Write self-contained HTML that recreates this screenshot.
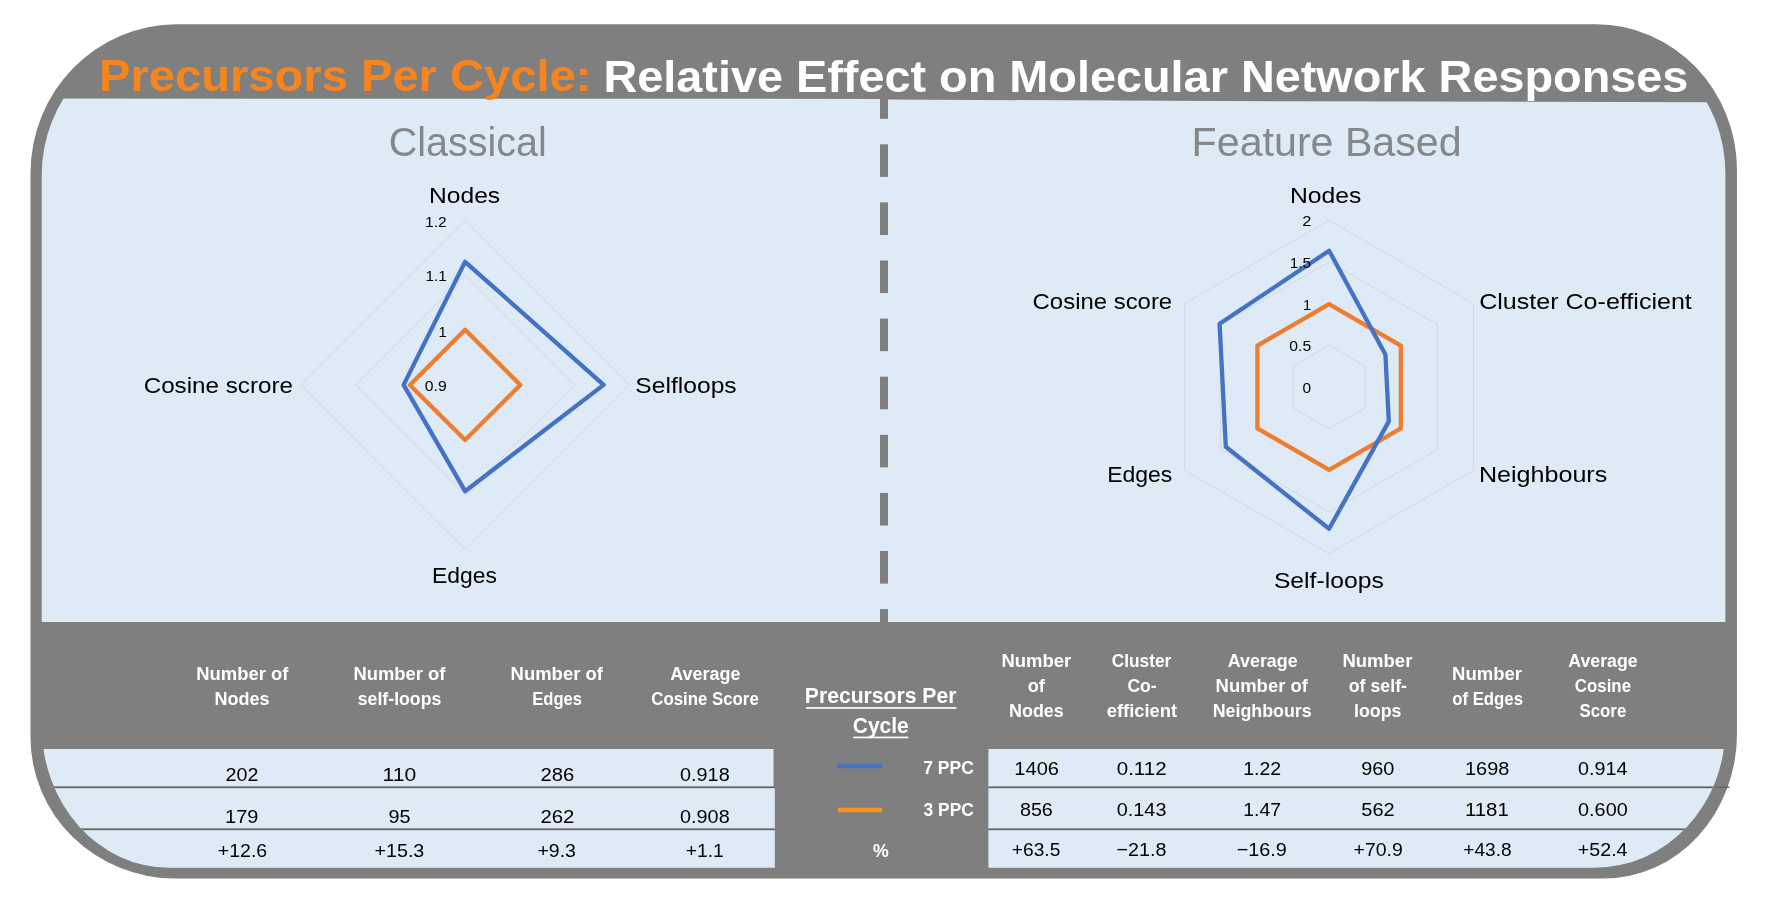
<!DOCTYPE html>
<html lang="en"><head><meta charset="utf-8"><title>Precursors Per Cycle</title>
<style>
html,body{margin:0;padding:0;background:#fff;}
body{width:1774px;height:908px;overflow:hidden;}
svg{display:block;filter:blur(0.5px);font-family:"Liberation Sans",sans-serif;}
</style></head><body>
<svg width="1774" height="908" viewBox="0 0 1774 908">
<rect width="1774" height="908" fill="#fff"/>
<path d="M176.5 24.3 L1596.0 24.3 A141 146 0 0 1 1737.0 170.3 L1737.0 733.6 A133 145 0 0 1 1604.0 878.6 L175.5 878.6 A145 141 0 0 1 30.5 737.6 L30.5 173.3 A146 149 0 0 1 176.5 24.3 Z" fill="#7f7f7f"/>
<clipPath id="inner"><path d="M174.7 35.3 L1595.4 35.3 A130 138 0 0 1 1725.4 173.3 L1725.4 727.8 A131 140 0 0 1 1594.4 867.8 L168.7 867.8 A127 142 0 0 1 41.7 725.8 L41.7 175.3 A133 140 0 0 1 174.7 35.3 Z"/></clipPath>
<g clip-path="url(#inner)">
<polygon points="30,98.6 880,98.9 888,99.6 1300,101.3 1740,102.3 1740,622 30,622" fill="#deebf7"/>
<rect x="30" y="749" width="743.5" height="38" fill="#deebf7"/>
<rect x="30" y="787" width="744.8" height="81" fill="#deebf7"/>
<rect x="988.4" y="749" width="760" height="119" fill="#deebf7"/>
<rect x="30" y="786.4" width="744.8" height="1.8" fill="#636363"/>
<rect x="988.4" y="786.4" width="760" height="1.8" fill="#636363"/>
<rect x="30" y="828.4" width="744.8" height="1.8" fill="#636363"/>
<rect x="988.4" y="828.4" width="760" height="1.8" fill="#636363"/>
</g>
<rect x="1715" y="786.6" width="14.5" height="1.4" fill="#636363"/>
<rect x="880" y="98.8" width="8" height="20.0" fill="#7f7f7f"/>
<rect x="880" y="144.3" width="8" height="32.6" fill="#7f7f7f"/>
<rect x="880" y="202.4" width="8" height="32.6" fill="#7f7f7f"/>
<rect x="880" y="260.5" width="8" height="32.6" fill="#7f7f7f"/>
<rect x="880" y="318.6" width="8" height="32.6" fill="#7f7f7f"/>
<rect x="880" y="376.7" width="8" height="32.6" fill="#7f7f7f"/>
<rect x="880" y="434.8" width="8" height="32.6" fill="#7f7f7f"/>
<rect x="880" y="492.9" width="8" height="32.6" fill="#7f7f7f"/>
<rect x="880" y="551.0" width="8" height="32.6" fill="#7f7f7f"/>
<rect x="880" y="609.1" width="8" height="13.9" fill="#7f7f7f"/>
<polygon points="465.1,330.1 519.9,384.9 465.1,439.6 410.3,384.9" fill="none" stroke="#d4d8dc" stroke-width="1"/>
<polygon points="465.1,275.3 574.6,384.9 465.1,494.4 355.6,384.9" fill="none" stroke="#d4d8dc" stroke-width="1"/>
<polygon points="465.1,220.6 629.4,384.9 465.1,549.2 300.8,384.9" fill="none" stroke="#d4d8dc" stroke-width="1"/>
<polygon points="465.1,261.8 603.6,384.9 465.1,491.2 403.6,384.9" fill="none" stroke="#4472c4" stroke-width="4.3" stroke-linejoin="round"/>
<polygon points="465.1,329.7 520.3,384.9 465.1,440.1 409.9,384.9" fill="none" stroke="#ed7d31" stroke-width="4.3" stroke-linejoin="round"/>
<polygon points="1329.1,345.3 1365.2,366.2 1365.2,407.8 1329.1,428.7 1293.0,407.8 1293.0,366.2" fill="none" stroke="#d4d8dc" stroke-width="1"/>
<polygon points="1329.1,303.6 1401.3,345.3 1401.3,428.7 1329.1,470.4 1256.9,428.7 1256.9,345.3" fill="none" stroke="#d4d8dc" stroke-width="1"/>
<polygon points="1329.1,262.0 1437.4,324.5 1437.4,449.5 1329.1,512.0 1220.8,449.5 1220.8,324.5" fill="none" stroke="#d4d8dc" stroke-width="1"/>
<polygon points="1329.1,220.3 1473.5,303.7 1473.5,470.3 1329.1,553.7 1184.7,470.3 1184.7,303.6" fill="none" stroke="#d4d8dc" stroke-width="1"/>
<polygon points="1329.1,304.2 1400.8,345.6 1400.8,428.4 1329.1,469.8 1257.4,428.4 1257.4,345.6" fill="none" stroke="#ed7d31" stroke-width="4.3" stroke-linejoin="round"/>
<polygon points="1329.1,250.7 1385.4,354.5 1388.8,421.4 1329.1,528.8 1225.8,446.7 1219.6,323.8" fill="none" stroke="#4472c4" stroke-width="4.3" stroke-linejoin="round"/>
<rect x="837" y="763.8" width="45.2" height="4.4" rx="0.6" fill="#4472c4"/>
<rect x="838" y="807.8" width="44.2" height="4.4" rx="0.6" fill="#f7941d"/>
<rect x="806" y="707.1" width="150.4" height="1.7" fill="#fff"/>
<rect x="853.4" y="736.6" width="55" height="1.7" fill="#fff"/>
<text transform="translate(98.94 91.00) scale(1.0461 1)" font-size="45.06" font-weight="700" fill="#f6851f">Precursors Per Cycle:</text>
<text transform="translate(603.46 91.50) scale(1.0395 1)" font-size="45.06" font-weight="700" fill="#fff">Relative Effect on Molecular Network Responses</text>
<text transform="translate(388.83 155.50) scale(0.9499 1)" font-size="41.57" fill="#85888b">Classical</text>
<text transform="translate(1191.61 156.30) scale(0.9907 1)" font-size="41.57" fill="#85888b">Feature Based</text>
<text transform="translate(429.03 203.10) scale(1.0855 1)" font-size="22.67" fill="#000">Nodes</text>
<text transform="translate(143.69 392.60) scale(1.0679 1)" font-size="22.67" fill="#000">Cosine scrore</text>
<text transform="translate(635.29 392.60) scale(1.0875 1)" font-size="22.67" fill="#000">Selfloops</text>
<text transform="translate(431.97 582.60) scale(1.0101 1)" font-size="22.67" fill="#000">Edges</text>
<text transform="translate(425.03 226.50) scale(1.0537 1)" font-size="14.83" fill="#000">1.2</text>
<text transform="translate(425.45 281.30) scale(1.0324 1)" font-size="14.83" fill="#000">1.1</text>
<text transform="translate(438.49 336.60) scale(0.9981 1)" font-size="14.83" fill="#000">1</text>
<text transform="translate(424.81 391.00) scale(1.0627 1)" font-size="14.83" fill="#000">0.9</text>
<text transform="translate(1289.92 203.00) scale(1.0902 1)" font-size="22.67" fill="#000">Nodes</text>
<text transform="translate(1032.60 308.70) scale(1.0552 1)" font-size="22.67" fill="#000">Cosine score</text>
<text transform="translate(1479.15 308.70) scale(1.1065 1)" font-size="22.67" fill="#000">Cluster Co-efficient</text>
<text transform="translate(1107.16 482.00) scale(1.0134 1)" font-size="22.67" fill="#000">Edges</text>
<text transform="translate(1478.89 482.00) scale(1.1079 1)" font-size="22.67" fill="#000">Neighbours</text>
<text transform="translate(1273.89 587.70) scale(1.0906 1)" font-size="22.67" fill="#000">Self-loops</text>
<text transform="translate(1302.18 226.40) scale(1.1058 1)" font-size="14.83" fill="#000">2</text>
<text transform="translate(1289.75 267.70) scale(1.0369 1)" font-size="14.83" fill="#000">1.5</text>
<text transform="translate(1303.11 309.50) scale(0.9825 1)" font-size="14.83" fill="#000">1</text>
<text transform="translate(1289.31 351.40) scale(1.0587 1)" font-size="14.83" fill="#000">0.5</text>
<text transform="translate(1302.52 393.10) scale(1.0399 1)" font-size="14.83" fill="#000">0</text>
<text transform="translate(196.30 679.80) scale(1.0226 1)" font-size="18.02" font-weight="700" fill="#fff">Number of</text>
<text transform="translate(214.53 704.60) scale(1.0016 1)" font-size="18.02" font-weight="700" fill="#fff">Nodes</text>
<text transform="translate(353.40 679.80) scale(1.0215 1)" font-size="18.02" font-weight="700" fill="#fff">Number of</text>
<text transform="translate(357.78 704.60) scale(0.9820 1)" font-size="18.02" font-weight="700" fill="#fff">self-loops</text>
<text transform="translate(510.60 679.80) scale(1.0248 1)" font-size="18.02" font-weight="700" fill="#fff">Number of</text>
<text transform="translate(532.22 704.60) scale(0.9230 1)" font-size="18.02" font-weight="700" fill="#fff">Edges</text>
<text transform="translate(670.25 679.80) scale(0.9958 1)" font-size="18.02" font-weight="700" fill="#fff">Average</text>
<text transform="translate(651.23 704.60) scale(0.9345 1)" font-size="18.02" font-weight="700" fill="#fff">Cosine Score</text>
<text transform="translate(804.83 703.30) scale(0.9573 1)" font-size="22.09" font-weight="700" fill="#fff">Precursors Per</text>
<text transform="translate(852.76 732.50) scale(0.9506 1)" font-size="22.09" font-weight="700" fill="#fff">Cycle</text>
<text transform="translate(923.26 774.30) scale(0.9130 1)" font-size="19.19" font-weight="700" fill="#fff">7 PPC</text>
<text transform="translate(923.61 815.60) scale(0.9066 1)" font-size="19.19" font-weight="700" fill="#fff">3 PPC</text>
<text transform="translate(873.00 856.60) scale(0.9218 1)" font-size="19.19" font-weight="700" fill="#fff">%</text>
<text transform="translate(1001.40 666.60) scale(1.0257 1)" font-size="18.02" font-weight="700" fill="#fff">Number</text>
<text transform="translate(1027.72 692.00) scale(1.0088 1)" font-size="18.02" font-weight="700" fill="#fff">of</text>
<text transform="translate(1009.04 716.50) scale(0.9941 1)" font-size="18.02" font-weight="700" fill="#fff">Nodes</text>
<text transform="translate(1111.71 666.60) scale(0.9617 1)" font-size="18.02" font-weight="700" fill="#fff">Cluster</text>
<text transform="translate(1127.40 692.00) scale(0.9751 1)" font-size="18.02" font-weight="700" fill="#fff">Co-</text>
<text transform="translate(1106.71 716.50) scale(1.0203 1)" font-size="18.02" font-weight="700" fill="#fff">efficient</text>
<text transform="translate(1227.75 666.60) scale(0.9929 1)" font-size="18.02" font-weight="700" fill="#fff">Average</text>
<text transform="translate(1215.60 692.00) scale(1.0248 1)" font-size="18.02" font-weight="700" fill="#fff">Number of</text>
<text transform="translate(1212.64 716.50) scale(0.9901 1)" font-size="18.02" font-weight="700" fill="#fff">Neighbours</text>
<text transform="translate(1342.39 666.60) scale(1.0287 1)" font-size="18.02" font-weight="700" fill="#fff">Number</text>
<text transform="translate(1348.73 692.00) scale(0.9875 1)" font-size="18.02" font-weight="700" fill="#fff">of self-</text>
<text transform="translate(1354.00 716.50) scale(0.9883 1)" font-size="18.02" font-weight="700" fill="#fff">loops</text>
<text transform="translate(1452.09 679.80) scale(1.0287 1)" font-size="18.02" font-weight="700" fill="#fff">Number</text>
<text transform="translate(1452.17 704.60) scale(0.9311 1)" font-size="18.02" font-weight="700" fill="#fff">of Edges</text>
<text transform="translate(1568.26 666.60) scale(0.9857 1)" font-size="18.02" font-weight="700" fill="#fff">Average</text>
<text transform="translate(1574.83 692.00) scale(0.9361 1)" font-size="18.02" font-weight="700" fill="#fff">Cosine</text>
<text transform="translate(1579.44 716.50) scale(0.9351 1)" font-size="18.02" font-weight="700" fill="#fff">Score</text>
<text transform="translate(225.62 781.40) scale(1.0258 1)" font-size="19.19" fill="#000">202</text>
<text transform="translate(225.10 823.00) scale(1.0407 1)" font-size="19.19" fill="#000">179</text>
<text transform="translate(217.87 857.10) scale(1.0168 1)" font-size="19.19" fill="#000">+12.6</text>
<text transform="translate(382.62 781.40) scale(1.0988 1)" font-size="19.19" fill="#000">110</text>
<text transform="translate(388.41 823.00) scale(1.0323 1)" font-size="19.19" fill="#000">95</text>
<text transform="translate(374.46 857.10) scale(1.0275 1)" font-size="19.19" fill="#000">+15.3</text>
<text transform="translate(540.38 781.40) scale(1.0590 1)" font-size="19.19" fill="#000">286</text>
<text transform="translate(540.38 823.00) scale(1.0623 1)" font-size="19.19" fill="#000">262</text>
<text transform="translate(537.47 857.10) scale(1.0161 1)" font-size="19.19" fill="#000">+9.3</text>
<text transform="translate(680.06 781.40) scale(1.0338 1)" font-size="19.19" fill="#000">0.918</text>
<text transform="translate(680.06 823.00) scale(1.0338 1)" font-size="19.19" fill="#000">0.908</text>
<text transform="translate(685.68 857.10) scale(1.0077 1)" font-size="19.19" fill="#000">+1.1</text>
<text transform="translate(1014.29 774.80) scale(1.0474 1)" font-size="19.19" fill="#000">1406</text>
<text transform="translate(1019.96 815.60) scale(1.0276 1)" font-size="19.19" fill="#000">856</text>
<text transform="translate(1011.79 856.10) scale(1.0008 1)" font-size="19.19" fill="#000">+63.5</text>
<text transform="translate(1116.73 774.80) scale(1.0702 1)" font-size="19.19" fill="#000">0.112</text>
<text transform="translate(1116.76 815.60) scale(1.0349 1)" font-size="19.19" fill="#000">0.143</text>
<text transform="translate(1116.56 856.10) scale(1.0264 1)" font-size="19.19" fill="#000">−21.8</text>
<text transform="translate(1243.24 774.80) scale(1.0153 1)" font-size="19.19" fill="#000">1.22</text>
<text transform="translate(1243.24 815.60) scale(1.0153 1)" font-size="19.19" fill="#000">1.47</text>
<text transform="translate(1236.66 856.10) scale(1.0349 1)" font-size="19.19" fill="#000">−16.9</text>
<text transform="translate(1361.20 774.80) scale(1.0391 1)" font-size="19.19" fill="#000">960</text>
<text transform="translate(1361.30 815.60) scale(1.0424 1)" font-size="19.19" fill="#000">562</text>
<text transform="translate(1353.58 856.10) scale(1.0136 1)" font-size="19.19" fill="#000">+70.9</text>
<text transform="translate(1465.01 774.80) scale(1.0387 1)" font-size="19.19" fill="#000">1698</text>
<text transform="translate(1464.97 815.60) scale(1.0617 1)" font-size="19.19" fill="#000">1181</text>
<text transform="translate(1463.29 856.10) scale(0.9944 1)" font-size="19.19" fill="#000">+43.8</text>
<text transform="translate(1578.06 774.80) scale(1.0307 1)" font-size="19.19" fill="#000">0.914</text>
<text transform="translate(1578.06 815.60) scale(1.0349 1)" font-size="19.19" fill="#000">0.600</text>
<text transform="translate(1577.87 856.10) scale(1.0233 1)" font-size="19.19" fill="#000">+52.4</text>
</svg>
</body></html>
